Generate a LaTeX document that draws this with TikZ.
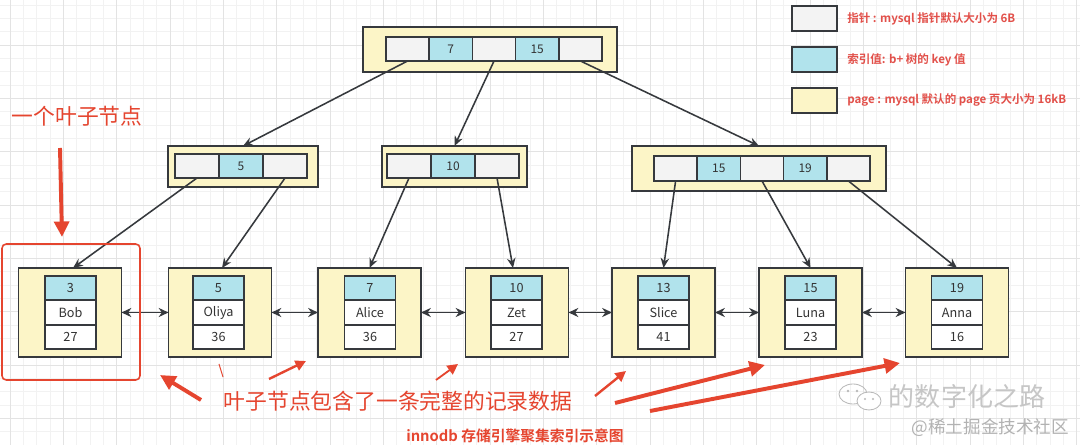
\documentclass[tikz,border=0pt]{standalone}
\usepackage{fontspec}
\newfontfamily\cjk{Noto Sans CJK SC}[BoldFont={Noto Sans CJK SC Bold}]
\usetikzlibrary{arrows.meta, positioning, calc}

\definecolor{pagefill}{HTML}{FCF5C7}
\definecolor{keyfill}{HTML}{B1E3EC}
\definecolor{ptrfill}{HTML}{F3F3F3}
\definecolor{edge}{HTML}{36393D}
\definecolor{celltext}{HTML}{333333}
\definecolor{myred}{HTML}{E5452F}
\definecolor{legendred}{HTML}{E2504A}

\begin{document}
\begin{tikzpicture}[
    x=0.025cm, y=-0.025cm, % one unit = one pixel of the picture
    >=Stealth,
    font=\cjk,
    gridminor/.style={draw=gray!10, line width=0.4pt}, % Light background grid
    gridmajor/.style={draw=gray!22, line width=0.4pt},
    pagebox/.style={draw=edge, fill=pagefill, line width=1.1pt, inner sep=0pt, outer sep=0pt}, % One page
    ptrcell/.style={draw=edge, fill=ptrfill, line width=1.1pt, minimum width=1.08cm, minimum height=0.6cm, inner sep=0pt, outer sep=0pt}, % Pointer
    keycell/.style={ptrcell, fill=keyfill, text=celltext, font=\cjk\fontsize{8.5}{10}\selectfont}, % Index value
    leafcell/.style={draw=edge, fill=white, line width=1.1pt, minimum width=1.275cm, minimum height=0.6125cm, inner sep=0pt, outer sep=0pt, text=celltext, font=\cjk\fontsize{9}{10}\selectfont},
    leafkey/.style={leafcell, fill=keyfill},
    leafbox/.style={pagebox, minimum width=2.575cm, minimum height=2.225cm},
    link/.style={draw=edge, line width=1.1pt, -{Stealth[length=7pt, width=6pt]}}, % Tree pointers
    sibling/.style={draw=edge, line width=1.1pt, {Stealth[length=7pt, width=6.5pt]}-{Stealth[length=7pt, width=6.5pt]}}, % Leaf list
    legendtext/.style={text=legendred, font=\cjk\bfseries\fontsize{8.2}{9}\selectfont, anchor=west, inner sep=0pt},
    note/.style={text=myred, font=\cjk\fontsize{15.5}{18}\selectfont},
    brush/.style={draw=myred, line width=2.8pt, -{Triangle[length=11pt, width=10.5pt]}}, % Hand drawn arrows
    brushthin/.style={draw=myred, line width=1.7pt, -{Triangle[length=7.5pt, width=7.5pt]}}
]

    % Fix the size of the picture
    \useasboundingbox (0,0) rectangle (1080,445);
    \fill[white] (0,0) rectangle (1080,445);

    % Background grid
    \foreach \i in {0,...,81} {
        \draw[gridminor] (\i*13.333-3.333,0) -- (\i*13.333-3.333,445);
    }
    \foreach \i in {0,...,33} {
        \draw[gridminor] (0,\i*13.333+5) -- (1080,\i*13.333+5);
    }
    \foreach \i in {0,...,20} {
        \draw[gridmajor] (\i*53.333+10,0) -- (\i*53.333+10,445);
    }
    \foreach \i in {0,...,8} {
        \draw[gridmajor] (0,\i*53.333-8.333) -- (1080,\i*53.333-8.333);
    }

    % Root page
    \node[pagebox, minimum width=6.35cm, minimum height=1.125cm] (root) at (490,49.5) {};
    \node[ptrcell] (r1) at (407.6,49) {};
    \node[keycell, right=0pt of r1] (r2) {7};
    \node[ptrcell, right=0pt of r2] (r3) {};
    \node[keycell, right=0pt of r3] (r4) {15};
    \node[ptrcell, right=0pt of r4] (r5) {};

    % Second level pages
    \node[pagebox, minimum width=3.75cm, minimum height=1.025cm] (pl) at (243,166.5) {};
    \node[ptrcell, minimum width=1.1cm] (l1) at (197,166) {};
    \node[keycell, minimum width=1.1cm, right=0pt of l1] (l2) {5};
    \node[ptrcell, minimum width=1.1cm, right=0pt of l2] (l3) {};

    \node[pagebox, minimum width=3.625cm, minimum height=1.025cm] (pm) at (454.5,166.5) {};
    \node[ptrcell, minimum width=1.1cm] (m1) at (409,166) {};
    \node[keycell, minimum width=1.1cm, right=0pt of m1] (m2) {10};
    \node[ptrcell, minimum width=1.1cm, right=0pt of m2] (m3) {};

    \node[pagebox, minimum width=6.35cm, minimum height=1.125cm] (pr) at (759,168.5) {};
    \node[ptrcell, minimum height=0.625cm] (q1) at (675.6,168.5) {};
    \node[keycell, minimum height=0.625cm, right=0pt of q1] (q2) {15};
    \node[ptrcell, minimum height=0.625cm, right=0pt of q2] (q3) {};
    \node[keycell, minimum height=0.625cm, right=0pt of q3] (q4) {19};
    \node[ptrcell, minimum height=0.625cm, right=0pt of q4] (q5) {};

    % Leaf pages
    \node[leafbox] (leaf1) at (70,312.5) {};
    \node[leafcell] (name1) at (70.5,312.5) {Bob};
    \node[leafkey, above=0pt of name1] (id1) {3};
    \node[leafcell, below=0pt of name1] (age1) {27};

    \node[leafbox] (leaf2) at (220,312.5) {};
    \node[leafcell] (name2) at (218.5,312.5) {Oliya};
    \node[leafkey, above=0pt of name2] (id2) {5};
    \node[leafcell, below=0pt of name2] (age2) {36};

    \node[leafbox] (leaf3) at (369.5,312.5) {};
    \node[leafcell] (name3) at (370,312.5) {Alice};
    \node[leafkey, above=0pt of name3] (id3) {7};
    \node[leafcell, below=0pt of name3] (age3) {36};

    \node[leafbox] (leaf4) at (517,312.5) {};
    \node[leafcell] (name4) at (516.5,312.5) {Zet};
    \node[leafkey, above=0pt of name4] (id4) {10};
    \node[leafcell, below=0pt of name4] (age4) {27};

    \node[leafbox] (leaf5) at (663.5,312.5) {};
    \node[leafcell] (name5) at (663.5,312.5) {Slice};
    \node[leafkey, above=0pt of name5] (id5) {13};
    \node[leafcell, below=0pt of name5] (age5) {41};

    \node[leafbox] (leaf6) at (810.5,312.5) {};
    \node[leafcell] (name6) at (810.5,312.5) {Luna};
    \node[leafkey, above=0pt of name6] (id6) {15};
    \node[leafcell, below=0pt of name6] (age6) {23};

    \node[leafbox] (leaf7) at (957,312.5) {};
    \node[leafcell] (name7) at (957,312.5) {Anna};
    \node[leafkey, above=0pt of name7] (id7) {19};
    \node[leafcell, below=0pt of name7] (age7) {16};

    % Pointers down the tree
    \draw[link] (r1.south) -- (pl.north);
    \draw[link] (r3.south) -- (pm.north);
    \draw[link] (r5.south) -- (pr.north);
    \draw[link] (l1.south) -- ($(leaf1.north)+(3,0)$);
    \draw[link] (l3.south) -- ($(leaf2.north)+(2,0)$);
    \draw[link] (m1.south) -- (leaf3.north);
    \draw[link] (m3.south) -- ($(leaf4.north)+(-4,0)$);
    \draw[link] (q1.south) -- (leaf5.north);
    \draw[link] (q3.south) -- (leaf6.north);
    \draw[link] (q5.south) -- (leaf7.north);

    % Linked list between leaves
    \draw[sibling] (leaf1.east) -- (leaf2.west);
    \draw[sibling] (leaf2.east) -- (leaf3.west);
    \draw[sibling] (leaf3.east) -- (leaf4.west);
    \draw[sibling] (leaf4.east) -- (leaf5.west);
    \draw[sibling] (leaf5.east) -- (leaf6.west);
    \draw[sibling] (leaf6.east) -- (leaf7.west);

    % Legend
    \node[ptrcell, minimum width=1.125cm, minimum height=0.625cm] (lg1) at (814.5,18.5) {};
    \node[legendtext, right=0.25cm of lg1] (lgt1) {指针 : mysql 指针默认大小为 6B};
    \node[keycell, minimum width=1.125cm, minimum height=0.625cm] (lg2) at (814.5,59.5) {};
    \node[legendtext, right=0.25cm of lg2] (lgt2) {索引值: b+ 树的 key 值};
    \node[pagebox, minimum width=1.125cm, minimum height=0.625cm] (lg3) at (814.5,100.5) {};
    \node[legendtext, right=0.25cm of lg3] (lgt3) {page : mysql 默认的 page 页大小为 16kB};

    % One leaf marked in red
    \node[note] (leafnote) at (77,116) {一个叶子节点};
    \coordinate (down1) at (60,148);
    \coordinate (down2) at (62,237);
    \draw[brush] (down1) -- (down2);
    \draw[myred, line width=1.1pt, rounded corners=3pt] (2,244) rectangle (140,380);

    % Note on the leaves
    \node[note] (recnote) at (398,401) {叶子节点包含了一条完整的记录数据};
    \coordinate (a1s) at (201,400);  \coordinate (a1e) at (160,375);
    \coordinate (t1s) at (219,364);  \coordinate (t1e) at (223,377);
    \coordinate (a2s) at (269,379);  \coordinate (a2e) at (306,361);
    \coordinate (a3s) at (436,380);  \coordinate (a3e) at (458,364);
    \coordinate (a4s) at (595,396);  \coordinate (a4e) at (626,371);
    \coordinate (a5s) at (615,403);  \coordinate (a5e) at (765,365);
    \coordinate (a6s) at (650,411);  \coordinate (a6e) at (900,363);
    \draw[brush] (a1s) -- (a1e);
    \draw[myred, line width=0.7pt] (t1s) -- (t1e);
    \draw[brushthin] (a2s) -- (a2e);
    \draw[brushthin, line width=1.3pt] (a3s) -- (a3e);
    \draw[brushthin] (a4s) -- (a4e);
    \draw[brush] (a5s) -- (a5e);
    \draw[brush] (a6s) -- (a6e);

    % Caption
    \node[text=myred, font=\cjk\bfseries\fontsize{10.5}{12}\selectfont] (caption) at (515,436) {innodb 存储引擎聚集索引示意图};

    % Watermark
    \draw[gray!55, line width=0.6pt] (853,394) ellipse (14 and 10);
    \draw[gray!55, line width=0.6pt, fill=white] (869,401) ellipse (12 and 9);
    \fill[gray!55] (848,391) circle (1.3) (857,391) circle (1.3) (865,399) circle (1.1) (873,399) circle (1.1);
    \node[text=gray!45, font=\cjk\fontsize{18.5}{20}\selectfont, anchor=west] (wm1) at (884,397) {的数字化之路};
    \node[text=gray!60, font=\cjk\fontsize{12.5}{14}\selectfont, anchor=east] (wm2) at (1074,428) {@稀土掘金技术社区};

\end{tikzpicture}
\end{document}
